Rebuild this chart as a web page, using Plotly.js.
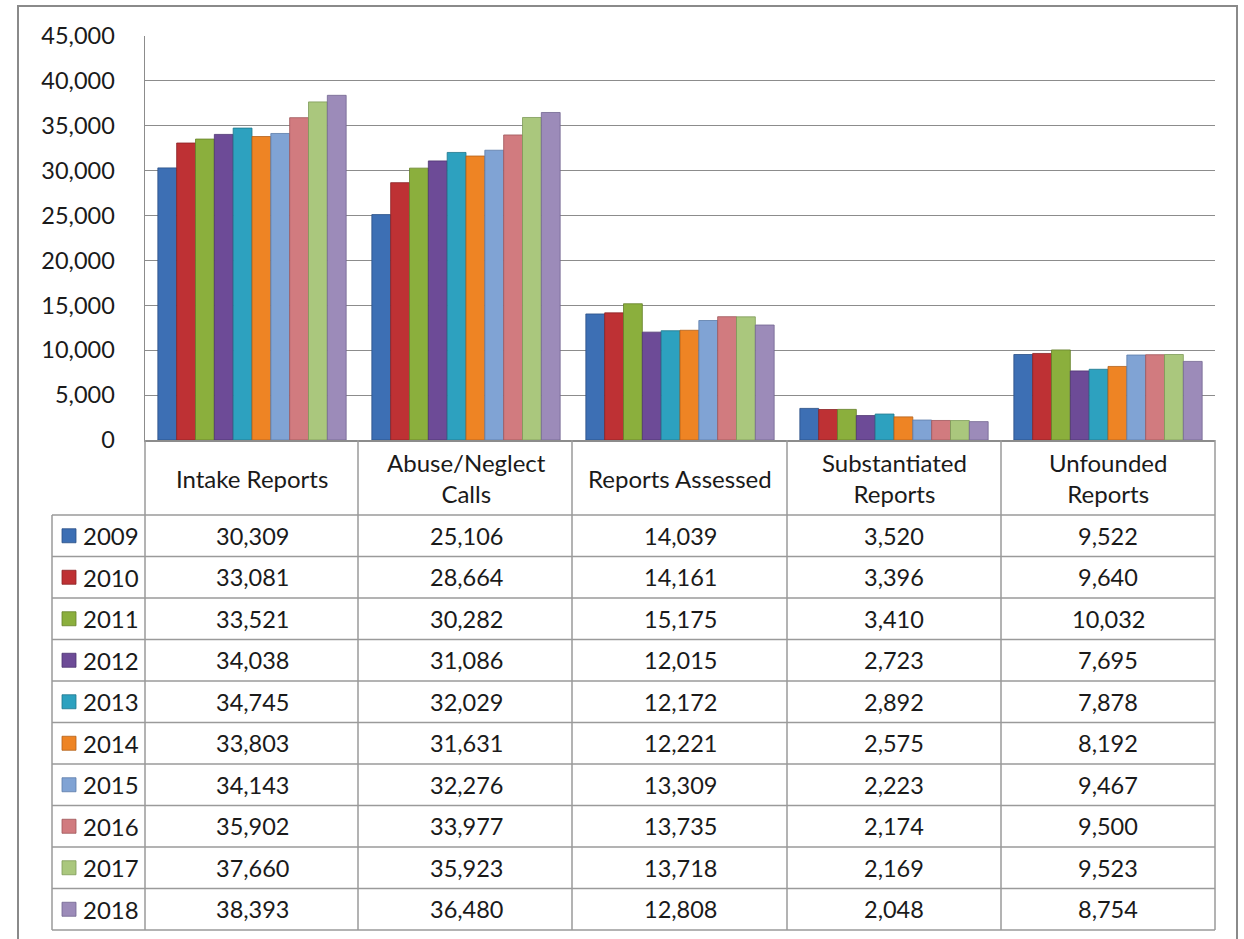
<!DOCTYPE html>
<html>
<head>
<meta charset="utf-8">
<script src="https://cdn.plot.ly/plotly-3.0.1.min.js"></script>
<style>
  html, body { margin: 0; padding: 0; background: #ffffff; }
  #chart { width: 1244px; height: 939px; }
</style>
</head>
<body>
<div id="chart"></div>
<script>
// ---- data ----
const categories = ["Intake Reports", "Abuse/Neglect Calls", "Reports Assessed", "Substantiated Reports", "Unfounded Reports"];
const headerLabels = ["Intake Reports", "Abuse/Neglect<br>Calls", "Reports Assessed", "Substantiated<br>Reports", "Unfounded<br>Reports"];
const years = ["2009", "2010", "2011", "2012", "2013", "2014", "2015", "2016", "2017", "2018"];
const v2009 = [30309, 25106, 14039, 3520, 9522];
const v2010 = [33081, 28664, 14161, 3396, 9640];
const v2011 = [33521, 30282, 15175, 3410, 10032];
const v2012 = [34038, 31086, 12015, 2723, 7695];
const v2013 = [34745, 32029, 12172, 2892, 7878];
const v2014 = [33803, 31631, 12221, 2575, 8192];
const v2015 = [34143, 32276, 13309, 2223, 9467];
const v2016 = [35902, 33977, 13735, 2174, 9500];
const v2017 = [37660, 35923, 13718, 2169, 9523];
const v2018 = [38393, 36480, 12808, 2048, 8754];
const seriesValues = [v2009, v2010, v2011, v2012, v2013, v2014, v2015, v2016, v2017, v2018];
const yTickVals = [0, 5000, 10000, 15000, 20000, 25000, 30000, 35000, 40000, 45000];

// ---- styles ----
const colors = ["#3D6FB4", "#BE3134", "#8BAF3D", "#6D4B97", "#2DA1BF", "#EE8424",
                "#80A3D4", "#D17B7F", "#AAC77D", "#9C8BB9"];
const lineColors = ["#2A4F85", "#8A2224", "#64802A", "#4D3470", "#1E768C", "#B3611A",
                    "#5A7BA8", "#9E5659", "#7E9A58", "#726690"];
const FONT = "Lato, 'Open Sans', 'DejaVu Sans', sans-serif";
const TXT = "#1a1a1a";
const GRID = "#8c8c8c";
const TLINE = "#9a9a9a";

// geometry (pixels)
const W = 1244, H = 939;
const PL = 145, PR = 1215, PT = 36, PB = 440;
const px = x => (x - PL) / (PR - PL);
const py = y => (PB - y) / (PB - PT);
const headerBottom = 515, rowH = 41.5;
const tableLeft = 52;
const colEdges = [145, 358, 572, 787, 1001, 1215];

// ---- traces ----
const traces = years.map((yr, i) => ({
  type: "bar",
  name: yr,
  x: categories,
  y: seriesValues[i],
  marker: { color: colors[i], line: { color: lineColors[i], width: 0.8 } },
  hoverinfo: "skip"
}));

// ---- table shapes & annotations ----
const shapes = [];
const annotations = [];

// outer chart frame
shapes.push({ type: "rect", xref: "paper", yref: "paper",
  x0: px(18), x1: px(1237), y0: py(6), y1: py(990),
  line: { color: "#8a8a8a", width: 2 }, fillcolor: "rgba(0,0,0,0)", layer: "below" });

// horizontal table lines
const tableBottom = headerBottom + rowH * years.length;
for (let r = 0; r <= years.length; r++) {
  const y = headerBottom + r * rowH;
  shapes.push({ type: "line", xref: "paper", yref: "paper",
    x0: px(tableLeft), x1: px(PR), y0: py(y), y1: py(y),
    line: { color: TLINE, width: 1.5 } });
}
// vertical table lines
shapes.push({ type: "line", xref: "paper", yref: "paper",
  x0: px(tableLeft), x1: px(tableLeft), y0: py(headerBottom), y1: py(tableBottom),
  line: { color: TLINE, width: 1.5 } });
colEdges.forEach(x => {
  shapes.push({ type: "line", xref: "paper", yref: "paper",
    x0: px(x), x1: px(x), y0: py(PB), y1: py(tableBottom),
    line: { color: TLINE, width: 1.5 } });
});

// header labels
categories.forEach((c, j) => {
  annotations.push({ xref: "x", yref: "paper", x: c, y: py(478),
    text: headerLabels[j], showarrow: false, xanchor: "center", yanchor: "middle",
    font: { family: FONT, size: 24, color: TXT } });
});

// rows
years.forEach((yr, i) => {
  const cy = headerBottom + rowH * i + rowH / 2;
  // legend key square
  shapes.push({ type: "rect", xref: "paper", yref: "paper",
    x0: px(62), x1: px(76), y0: py(cy - 7), y1: py(cy + 7),
    fillcolor: colors[i], line: { color: lineColors[i], width: 0.8 } });
  annotations.push({ xref: "paper", yref: "paper", x: px(81), y: py(cy),
    text: yr, showarrow: false, xanchor: "left", yanchor: "middle",
    font: { family: FONT, size: 24, color: TXT } });
  categories.forEach((c, j) => {
    annotations.push({ xref: "x", yref: "paper", x: c, y: py(cy),
      text: seriesValues[i][j].toLocaleString("en-US"), showarrow: false,
      xanchor: "center", yanchor: "middle",
      font: { family: FONT, size: 23.5, color: TXT } });
  });
});

const layout = {
  width: W, height: H,
  margin: { l: PL, r: W - PR, t: PT, b: H - PB, pad: 0 },
  paper_bgcolor: "#ffffff",
  plot_bgcolor: "#ffffff",
  showlegend: false,
  hovermode: false,
  barmode: "group",
  bargap: 0.12,
  bargroupgap: 0,
  font: { family: FONT, size: 23.5, color: TXT },
  xaxis: {
    type: "category",
    range: [-0.5, 4.5],
    showticklabels: false,
    ticks: "",
    showgrid: false,
    zeroline: false,
    showline: true, linecolor: GRID, linewidth: 1.5,
    fixedrange: true
  },
  yaxis: {
    range: [0, 45000],
    tickvals: yTickVals,
    tickformat: ",",
    ticks: "",
    ticklabelstandoff: 24,
    tickfont: { family: FONT, size: 23.5, color: TXT },
    showgrid: true, gridcolor: GRID, gridwidth: 1.2,
    zeroline: false,
    showline: true, linecolor: GRID, linewidth: 1.5,
    fixedrange: true
  },
  shapes: shapes,
  annotations: annotations
};

Plotly.newPlot("chart", traces, layout, { displayModeBar: false, staticPlot: true });
</script>
</body>
</html>
